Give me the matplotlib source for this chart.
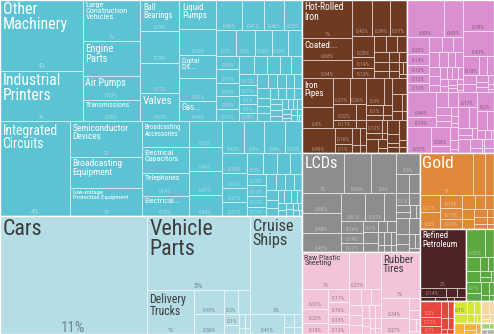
import matplotlib
matplotlib.use("Agg")
import matplotlib.pyplot as plt
from matplotlib import font_manager
from matplotlib.colors import to_rgb
from matplotlib.font_manager import FontProperties
from matplotlib.patches import Rectangle
from matplotlib.textpath import TextPath

W, H = 494, 334
GOLDEN = 0.5 * (1 + 5 ** 0.5)

# Export shares (% of total), grouped section -> HS2 chapter -> HS4 product.
# Name lists line up with the first values of a chapter; the rest stay unlabelled.

# Machines
hs84 = [3.55, 2.55, 1.45, 1.20, 0.83, 0.76, 0.74, 0.74, 0.72, 0.67, 0.65, 0.58, 0.51, 0.51, 0.46,
        0.46, 0.41, 0.36, 0.33, 0.30, 0.30, 0.26, 0.25, 0.22, 0.19, 0.19, 0.19, 0.18, 0.17,
        0.16, 0.15, 0.14, 0.13, 0.12, 0.12, 0.11, 0.10, 0.10, 0.09, 0.09, 0.08, 0.08, 0.07, 0.07,
        0.07, 0.06, 0.06, 0.06, 0.05, 0.05, 0.05, 0.05, 0.04, 0.04, 0.04, 0.04, 0.04, 0.03, 0.03,
        0.03, 0.03, 0.02, 0.02, 0.02, 0.02, 0.02, 0.01, 0.01]
hs84_names = ["Other Machinery", "Industrial Printers", "Large Construction Vehicles",
              "Engine Parts", "Air Pumps", "Transmissions", "Ball Bearings", "", "", "Valves",
              "Liquid Pumps", "", "Digital Dis...", "", "Gas..."]
hs85 = [4.04, 1.55, 1.35, 1.25, 0.73, 0.72, 0.64, 0.58, 0.53, 0.49, 0.47, 0.44, 0.42, 0.40,
        0.40, 0.33, 0.29, 0.22, 0.21, 0.21, 0.20, 0.18, 0.16, 0.15, 0.13, 0.12, 0.12, 0.11,
        0.10, 0.09, 0.09, 0.08, 0.07, 0.06, 0.06, 0.05, 0.05, 0.04, 0.04, 0.04, 0.03, 0.03,
        0.03, 0.02, 0.02, 0.02, 0.01]
hs85_names = ["Integrated Circuits", "Semiconductor Devices", "Broadcasting Equipment",
              "Low-voltage Protection Equipment", "Broadcasting Accessories",
              "Electrical Capacitors", "Telephones", "Electrical..."]

# Transportation
hs87 = [10.51, 4.62, 1.25, 0.45, 0.36, 0.20, 0.18, 0.10, 0.08, 0.05, 0.04, 0.02, 0.02]
hs87_names = ["Cars", "Vehicle Parts", "Delivery Trucks"]
hs89 = [3.09, 0.41, 0.08, 0.06, 0.04, 0.03]
hs89_names = ["Cruise Ships"]

# Metals
hs72 = [1.17, 0.68, 0.54, 0.42, 0.39, 0.37, 0.28, 0.14, 0.13, 0.12, 0.12, 0.10, 0.09, 0.08,
        0.07, 0.06, 0.05, 0.05, 0.04, 0.03, 0.03, 0.02]
hs72_names = ["Hot-Rolled Iron", "Coated..."]
hs73 = [0.54, 0.40, 0.27, 0.26, 0.22, 0.11, 0.10, 0.05]
hs73_names = ["Iron Pipes"]
hs74 = [0.49, 0.16, 0.10, 0.08, 0.06, 0.04, 0.03]
hs76 = [0.30, 0.14, 0.10, 0.06, 0.05, 0.03]
hs82 = [0.14, 0.10, 0.06, 0.05, 0.03]
hs81 = [0.12, 0.06, 0.04, 0.02]
hs75 = [0.11, 0.05, 0.03]
hs83 = [0.09, 0.06, 0.03]
hs79 = [0.10, 0.04]
hs78 = [0.04, 0.03]

# Chemical products
hs29 = [0.83, 0.43, 0.23, 0.14, 0.13, 0.12, 0.12, 0.11, 0.10, 0.09, 0.09, 0.08, 0.07, 0.07,
        0.06, 0.06, 0.05, 0.05, 0.04, 0.04, 0.04, 0.03, 0.03, 0.03, 0.02, 0.02, 0.02, 0.02,
        0.01]
hs38 = [0.59, 0.47, 0.18, 0.09, 0.08, 0.07, 0.06, 0.05, 0.04, 0.04, 0.03, 0.02, 0.01]
hs30 = [0.44, 0.18, 0.10, 0.09, 0.07, 0.06, 0.05, 0.04, 0.03, 0.02]
hs33 = [0.37, 0.23, 0.08, 0.06, 0.04, 0.02]
hs28 = [0.17, 0.14, 0.09, 0.06, 0.04, 0.03]
hs32 = [0.20, 0.12, 0.08, 0.05, 0.03, 0.02]
hs34 = [0.10, 0.06, 0.04, 0.02]
hs37 = [0.05, 0.03]

# Instruments
hs90 = [1.02, 0.65, 0.60, 0.48, 0.48, 0.45, 0.41, 0.32, 0.20, 0.16, 0.14, 0.12, 0.10, 0.09,
        0.08, 0.07, 0.06, 0.05, 0.05, 0.04, 0.03, 0.03, 0.02]
hs90_names = ["LCDs"]
hs91 = [0.30, 0.15, 0.12, 0.10, 0.08, 0.06, 0.05, 0.04, 0.03]
hs92 = [0.13, 0.10, 0.08, 0.06, 0.05, 0.04, 0.03]

# Plastics and rubbers
hs39 = [1.04, 0.37, 0.34, 0.31, 0.22, 0.18, 0.17, 0.16, 0.13, 0.13, 0.11, 0.10, 0.09, 0.08,
        0.07, 0.07, 0.06, 0.05, 0.05, 0.04, 0.04, 0.03, 0.03, 0.02, 0.02]
hs39_names = ["Raw Plastic Sheeting"]
hs40 = [1.09, 0.34, 0.27, 0.08, 0.06, 0.05, 0.03, 0.02]
hs40_names = ["Rubber Tires"]

# Precious metals
hs71 = [1.35, 0.29, 0.24, 0.21, 0.20, 0.19, 0.15, 0.13, 0.11, 0.09, 0.08, 0.07, 0.07, 0.06,
        0.05, 0.04, 0.03, 0.03, 0.02]
hs71_names = ["Gold"]

# Mineral products
hs27 = [1.67, 0.14, 0.06, 0.05]
hs27_names = ["Refined Petroleum"]
hs25 = [0.04, 0.03, 0.02]
hs26 = [0.03]

# Smaller sections in the bottom-right corner
green_a = [0.33, 0.15, 0.12, 0.09, 0.07, 0.05, 0.04, 0.03, 0.02]
green_b = [0.10, 0.08, 0.06, 0.04, 0.03, 0.02]
textiles = [0.20, 0.12, 0.10, 0.07, 0.06, 0.05, 0.04, 0.02, 0.02]
foodstuffs = [0.10, 0.07, 0.06, 0.05, 0.04, 0.02, 0.02]
stone_glass = [0.07, 0.05, 0.03, 0.03]
misc_goods = [0.06, 0.04, 0.03, 0.02, 0.02]
leaf_green = [0.03, 0.02]
greys = [0.02, 0.02]

# colour, label tone (+1 lighter / -1 darker percentages), dark names?, chapters
SECTIONS = [
    ("#5bc3d3", +1, False, [(hs84, hs84_names), (hs85, hs85_names)]),
    ("#b4dde6", -1, True, [(hs87, hs87_names), (hs89, hs89_names)]),
    ("#6e3b22", +1, False, [(hs72, hs72_names), (hs73, hs73_names), (hs74, []), (hs76, []),
                            (hs82, []), (hs81, []), (hs75, []), (hs83, []), (hs79, []),
                            (hs78, [])]),
    ("#d98fd0", -1, False, [(hs29, []), (hs38, []), (hs30, []), (hs33, []), (hs28, []),
                            (hs32, []), (hs34, []), (hs37, [])]),
    ("#8d8d8d", +1, False, [(hs90, hs90_names), (hs91, []), (hs92, [])]),
    ("#f3c3d9", -1, True, [(hs39, hs39_names), (hs40, hs40_names)]),
    ("#e0883a", +1, False, [(hs71, hs71_names)]),
    ("#4d2323", +1, False, [(hs27, hs27_names), (hs25, []), (hs26, [])]),
    ("#5aa83e", +1, False, [(green_a, []), (green_b, [])]),
    ("#e5473a", +1, False, [(textiles, [])]),
    ("#d4e737", -1, True, [(foodstuffs, [])]),
    ("#f4b23a", -1, True, [(stone_glass, [])]),
    ("#f6d7a0", -1, True, [(misc_goods, [])]),
    ("#9fd36c", -1, True, [(leaf_green, [])]),
    ("#b0b0b0", -1, True, [(greys, [])]),
]


def build_tree():
    root = {"children": []}
    for colour, tone, dark, chapters in SECTIONS:
        sec = {"children": [], "colour": colour}
        for values, names in chapters:
            leaves = [{"value": v, "name": names[i] if i < len(names) else "",
                       "colour": colour, "tone": tone, "dark": dark}
                      for i, v in enumerate(values)]
            sec["children"].append({"children": leaves, "value": sum(values)})
        sec["value"] = sum(c["value"] for c in sec["children"])
        root["children"].append(sec)
    root["value"] = sum(c["value"] for c in root["children"])
    root["rect"] = (0.0, 0.0, float(W), float(H))
    return root


def worst(areas, u):
    s = sum(areas)
    return max(u * u * max(areas) * GOLDEN / (s * s), s * s / (u * u * min(areas) * GOLDEN))


def position(row, rect, flush):
    x, y, dx, dy = rect
    area = sum(a for _, a in row)
    if dx <= dy:
        # strip across the top
        v = area / dx
        if flush or v > dy:
            v = dy
        cx = x
        for node, a in row:
            node["rect"] = (cx, y, a / v, v)
            cx += a / v
        last = row[-1][0]
        lx = last["rect"][0]
        last["rect"] = (lx, y, x + dx - lx, v)
        return (x, y + v, dx, dy - v)
    # strip down the left side
    v = area / dy
    if flush or v > dx:
        v = dx
    cy = y
    for node, a in row:
        node["rect"] = (x, cy, v, a / v)
        cy += a / v
    last = row[-1][0]
    ly = last["rect"][1]
    last["rect"] = (x, ly, v, y + dy - ly)
    return (x + v, y, dx - v, dy)


def squarify(node):
    kids = node.get("children")
    if not kids:
        return
    x, y, dx, dy = node["rect"]
    k = dx * dy / node["value"]
    items = [(c, c["value"] * k) for c in sorted(kids, key=lambda c: -c["value"])]
    rect = (x, y, dx, dy)
    row, best, i = [], float("inf"), 0
    while i < len(items):
        u = min(rect[2], rect[3])
        score = worst([a for _, a in row + [items[i]]], u)
        if score <= best:
            row.append(items[i])
            best = score
            i += 1
        else:
            rect = position(row, rect, False)
            row, best = [], float("inf")
    if row:
        position(row, rect, True)
    for c in kids:
        squarify(c)


def pick_family():
    have = {f.name for f in font_manager.fontManager.ttflist}
    for fam in ["Liberation Sans Narrow", "Roboto Condensed", "Open Sans Condensed", "Lato"]:
        if fam in have:
            return fam
    return "DejaVu Sans"


FAMILY = pick_family()
FP = FontProperties(family=FAMILY)
_widths = {}


def text_width(s, px):
    if s not in _widths:
        _widths[s] = TextPath((0, 0), s, size=10, prop=FP).get_extents().width
    return _widths[s] * px / 10.0


def wrap(words, px, max_w):
    lines, cur = [], ""
    for word in words:
        trial = (cur + " " + word).strip()
        if text_width(trial, px) <= max_w:
            cur = trial
            continue
        if not cur or text_width(word, px) > max_w:
            return None
        lines.append(cur)
        cur = word
    if cur:
        lines.append(cur)
    return lines


def fit_name(name, w, h):
    words = name.split()
    max_w = 0.8 * w - 2
    px = min(22.0, 0.42 * h)
    while px >= 4.5:
        lines = wrap(words, px, max_w)
        if lines and len(lines) * px * 1.12 <= 0.7 * h:
            return px, lines
        px -= 0.25
    return None


def mix(colour, other, t):
    a, b = to_rgb(colour), to_rgb(other)
    return tuple(p * (1 - t) + q * t for p, q in zip(a, b))


def share_label(v):
    if v >= 1:
        return f"{v:.0f}%"
    return f"{v:.2f}".rstrip("0").rstrip(".") + "%"


tree = build_tree()
squarify(tree)

fig = plt.figure(figsize=(W / 100, H / 100), dpi=100)
ax = fig.add_axes([0, 0, 1, 1])
ax.set_xlim(0, W)
ax.set_ylim(H, 0)
ax.axis("off")
PT = 0.72  # points per pixel at 100 dpi

for sec in tree["children"]:
    for chap in sec["children"]:
        for leaf in chap["children"]:
            x, y, w, h = leaf["rect"]
            colour = leaf["colour"]
            ax.add_patch(Rectangle((x, y), w, h, facecolor=colour,
                                   edgecolor=mix(colour, "white", 0.75), linewidth=0.6))
            name_h = 0
            if leaf["name"]:
                fit = fit_name(leaf["name"], w, h)
                if fit:
                    px, lines = fit
                    ax.text(x + 2.5, y + 2.5, "\n".join(lines), fontsize=px * PT,
                            family=FAMILY, ha="left", va="top", linespacing=0.95,
                            color="#3c3c3c" if leaf["dark"] else "white")
                    name_h = len(lines) * px * 1.12 + 3
            label = share_label(leaf["value"])
            px = max(5.5, 15 * (w * h / 17350) ** 0.7)
            if text_width(label, px) <= w - 3 and h >= px * 1.4 + name_h:
                if leaf["tone"] > 0:
                    tone = mix(colour, "white", 0.45)
                else:
                    tone = mix(colour, "black", 0.38)
                ax.text(x + w / 2, y + h - 2.2, label, fontsize=px * PT, family=FAMILY,
                        ha="center", va="baseline", color=tone)
    x, y, w, h = sec["rect"]
    ax.add_patch(Rectangle((x, y), w, h, facecolor="none", edgecolor="white", linewidth=1.0))

fig.savefig("out.png", dpi=100)
